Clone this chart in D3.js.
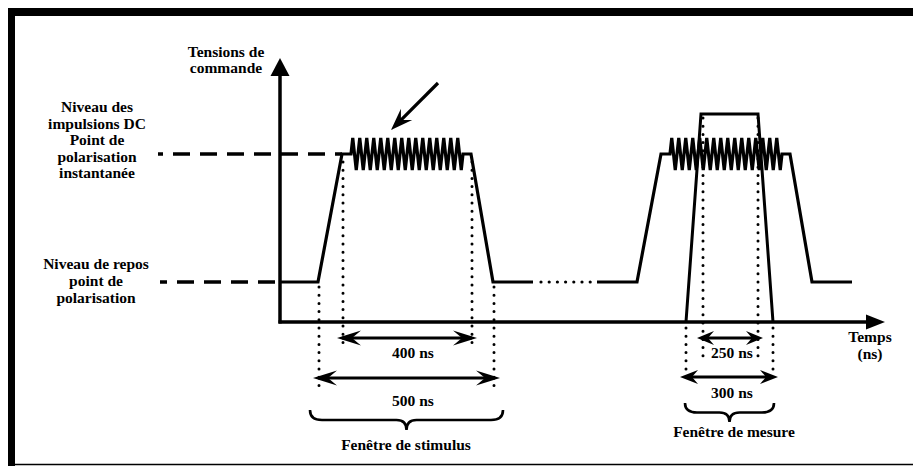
<!DOCTYPE html>
<html><head><meta charset="utf-8">
<script src="https://cdn.jsdelivr.net/npm/d3@7"></script>
<style>
html,body{margin:0;padding:0;background:#fff;}
svg{display:block;}
</style></head>
<body>
<script>
// ---- data ----
const yAxisTitle = ["Tensions de", "commande"];
const xAxisTitle = ["Temps", "(ns)"];
const highLabel = ["Niveau des", "impulsions DC", "Point de", "polarisation", "instantanée"];
const lowLabel = ["Niveau de repos", "point de", "polarisation"];
const durationLabels = ["400 ns", "500 ns", "250 ns", "300 ns"];
const windowNames = ["Fenêtre de stimulus", "Fenêtre de mesure"];
// waveform vertices (schematic time units, level: 0 = repos, 1 = impulsion)
const pulse1T = [0, 38, 62, 71];
const pulse1L = [0, 0, 1, 1];
const pulse1EndT = [183, 191, 213, 253];
const pulse1EndL = [1, 1, 0, 0];
const gapT = [261, 311];
const pulse2T = [317, 357, 381, 390];
const pulse2L = [0, 0, 1, 1];
const pulse2EndT = [502, 510, 532, 572];
const pulse2EndL = [1, 1, 0, 0];
const zigCycles = [16, 16];
const zigAmp = 0.125;
const measureT = [406, 421, 478, 493];
const measureL = [-0.3125, 1.3125, 1.3125, -0.3125];
const stimInnerT = [62, 191];
const stimOuterT = [39, 214];
const measInnerT = [422, 477];
const measOuterT = [406, 493];

// ---- scales ----
const W = 913, H = 466;
const FONT = "Liberation Serif";
const x = d3.scaleLinear().domain([0, 605]).range([280, 885]);
const y = d3.scaleLinear().domain([0, 1]).range([282, 154]);
const y0 = y(-0.3125);

const svg = d3.select("body").append("svg").attr("width", W).attr("height", H);

// frame
svg.append("rect").attr("x", 8).attr("y", 8).attr("width", W - 8).attr("height", 8).attr("fill", "#000");
svg.append("rect").attr("x", 8).attr("y", 8).attr("width", 7).attr("height", H - 8).attr("fill", "#000");
svg.append("line").attr("x1", 8).attr("x2", W).attr("y1", 464.5).attr("y2", 464.5).attr("stroke", "#000").attr("stroke-width", 1.5);

const line = d3.line().x(d => x(d[0])).y(d => y(d[1]));
const zip = (ts, ls) => ts.map((t, i) => [t, ls[i]]);

function zig(t0, t1, n) {
  const pts = [[t0, 1]];
  const p = (t1 - t0) / n;
  for (let i = 0; i < n; i++) {
    pts.push([t0 + (i + 0.25) * p, 1 + zigAmp]);
    pts.push([t0 + (i + 0.75) * p, 1 - zigAmp]);
  }
  pts.push([t1, 1]);
  return pts;
}

function arrowHead(g, tx, ty, ux, uy, L, Wd, N) {
  const nx = -uy, ny = ux;
  const pts = [[tx, ty], [tx - L * ux + Wd * nx, ty - L * uy + Wd * ny], [tx - N * ux, ty - N * uy], [tx - L * ux - Wd * nx, ty - L * uy - Wd * ny]];
  g.append("path").attr("d", "M" + pts.map(p => p.join(",")).join("L") + "Z").attr("fill", "#000");
}
function dblArrow(g, xa, xb, yy, L, Wd, N) {
  g.append("line").attr("x1", xa + 5).attr("x2", xb - 5).attr("y1", yy).attr("y2", yy).attr("stroke", "#000").attr("stroke-width", 3.2);
  arrowHead(g, xa, yy, -1, 0, L, Wd, N);
  arrowHead(g, xb, yy, 1, 0, L, Wd, N);
}
function dotted(g, xx, ya, yb) {
  g.append("line").attr("x1", xx).attr("x2", xx).attr("y1", ya).attr("y2", yb)
    .attr("stroke", "#000").attr("stroke-width", 3).attr("stroke-linecap", "round").attr("stroke-dasharray", "0,8.2");
}
function brace(g, xa, xb, yt, depth) {
  const xm = (xa + xb) / 2, h = depth / 2;
  const d = `M${xa},${yt} Q${xa},${yt + h} ${xa + 12},${yt + h} L${xm - 10},${yt + h} Q${xm},${yt + h} ${xm},${yt + depth}` +
            ` Q${xm},${yt + h} ${xm + 10},${yt + h} L${xb - 12},${yt + h} Q${xb},${yt + h} ${xb},${yt}`;
  g.append("path").attr("d", d).attr("fill", "none").attr("stroke", "#000").attr("stroke-width", 2.6);
}
function txt(s, cx, yy) {
  return svg.append("text").attr("x", cx).attr("y", yy).attr("text-anchor", "middle")
    .attr("font-family", FONT).attr("font-weight", "bold").attr("font-size", 15.5).attr("fill", "#000").text(s);
}
function multiline(lines, cx, yFirst, lh) {
  lines.forEach((s, i) => txt(s, cx, yFirst + i * lh));
}

// dashed level references
svg.append("line").attr("x1", 158).attr("x2", x(pulse1T[2])).attr("y1", y(1)).attr("y2", y(1))
  .attr("stroke", "#000").attr("stroke-width", 3.5).attr("stroke-dasharray", "17,10").attr("stroke-dashoffset", 12);
svg.append("line").attr("x1", 160).attr("x2", x(0)).attr("y1", y(0)).attr("y2", y(0))
  .attr("stroke", "#000").attr("stroke-width", 3.5).attr("stroke-dasharray", "17,10").attr("stroke-dashoffset", 10);

// axes
const ax = svg.append("g");
ax.append("line").attr("x1", x(0)).attr("x2", x(0)).attr("y1", y0 + 1.5).attr("y2", 72).attr("stroke", "#000").attr("stroke-width", 3.5);
ax.append("path").attr("d", `M${x(0)},58 L${x(0) - 9.5},76 L${x(0) + 9.5},76 Z`).attr("fill", "#000");
ax.append("line").attr("x1", x(0) - 1.5).attr("x2", 870).attr("y1", y0).attr("y2", y0).attr("stroke", "#000").attr("stroke-width", 3.5);
ax.append("path").attr("d", `M885,${y0} L866,${y0 - 7.5} L866,${y0 + 7.5} Z`).attr("fill", "#000");

// waveform
const wf = svg.append("g").attr("fill", "none").attr("stroke", "#000").attr("stroke-width", 3.2).attr("stroke-linejoin", "miter");
const p1 = zip(pulse1T, pulse1L).concat(zig(pulse1T[3], pulse1EndT[0], zigCycles[0])).concat(zip(pulse1EndT, pulse1EndL));
wf.append("path").attr("d", line(p1));
const p2 = zip(pulse2T, pulse2L).concat(zig(pulse2T[3], pulse2EndT[0], zigCycles[1])).concat(zip(pulse2EndT, pulse2EndL));
wf.append("path").attr("d", line(p2));
svg.append("line").attr("x1", x(gapT[0])).attr("x2", x(gapT[1])).attr("y1", y(0)).attr("y2", y(0))
  .attr("stroke", "#000").attr("stroke-width", 3.2).attr("stroke-linecap", "round").attr("stroke-dasharray", "0,8.2");
// measurement window
wf.append("path").attr("d", line(zip(measureT, measureL))).attr("stroke-width", 3);

// pointing arrow
const ag = svg.append("g");
{
  const xa = 438, ya = 83, xb = 391, yb = 130;
  const len = Math.hypot(xb - xa, yb - ya), ux = (xb - xa) / len, uy = (yb - ya) / len;
  ag.append("line").attr("x1", xa).attr("y1", ya).attr("x2", xb - 8 * ux).attr("y2", yb - 8 * uy).attr("stroke", "#000").attr("stroke-width", 3.2);
  arrowHead(ag, xb, yb, ux, uy, 22, 8, 14);
}

// dotted markers
const dg = svg.append("g");
stimInnerT.forEach(t => dotted(dg, x(t) + 1, 162, 346));
stimOuterT.forEach(t => dotted(dg, x(t), 287, 388));
measInnerT.forEach(t => dotted(dg, x(t) + 1, 118, 357));
measOuterT.forEach(t => dotted(dg, x(t), 328, 370));

// duration arrows
const dur = svg.append("g");
dblArrow(dur, 337, 477, 338, 24, 7.5, 15);
dblArrow(dur, 313, 500, 378, 24, 7.5, 15);
dblArrow(dur, 697, 763, 338, 17, 7, 11);
dblArrow(dur, 680, 778, 377, 18, 7, 12);

txt(durationLabels[0], 413, 358);
txt(durationLabels[1], 413, 406);
txt(durationLabels[2], 732, 358);
txt(durationLabels[3], 732, 398);

// braces
brace(svg, 310, 503, 410, 20);
brace(svg, 685, 774, 403, 19);
txt(windowNames[0], 406, 450);
txt(windowNames[1], 734, 437);

// labels
multiline(yAxisTitle, 226, 57, 16);
multiline(xAxisTitle, 870, 342, 17);
multiline(highLabel, 97, 112, 16.5);
multiline(lowLabel, 96, 269, 16.8);
</script>
</body></html>
